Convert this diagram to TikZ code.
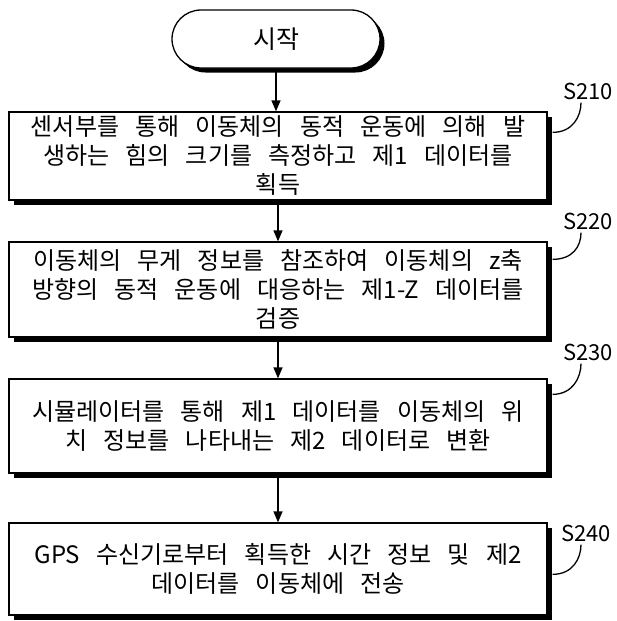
\documentclass[tikz,border=0pt]{standalone}
\usepackage{fontspec}
\setmainfont{Noto Sans CJK KR}[WordSpace=3]
\usetikzlibrary{arrows.meta,shadows}
\begin{document}
\begin{tikzpicture}[x=1pt,y=-1pt,
  shad/.style={drop shadow={shadow xshift=4.5pt,shadow yshift=-4.5pt,fill=black,opacity=1}},
  stepbox/.style={shad,draw,line width=1.3pt,fill=white,minimum width=538pt,inner sep=0pt,
    align=center,font=\fontsize{24}{29}\selectfont},
  term/.style={shad,draw,line width=1.3pt,fill=white,minimum width=208pt,minimum height=58pt,
    rounded corners=29pt,inner sep=0pt,font=\fontsize{25}{28}\selectfont},
  lbl/.style={font=\fontsize{22}{24}\selectfont,inner sep=0pt},
  flow/.style={line width=1.4pt,-{Triangle[length=11pt,width=9pt]}},
  leader/.style={line width=1.3pt}]
\useasboundingbox (0,0) rectangle (617,621);
\node[term] (st) at (276,39) {시작};
\node[stepbox,minimum height=88pt] (s1) at (278,156) {센서부를 통해 이동체의 동적 운동에 의해 발\\생하는 힘의 크기를 측정하고 제1 데이터를\\획득};
\node[stepbox,minimum height=95pt] (s2) at (278,289.5) {이동체의 무게 정보를 참조하여 이동체의 z축\\방향의 동적 운동에 대응하는 제1-Z 데이터를\\검증};
\node[stepbox,minimum height=94pt] (s3) at (278,426) {시뮬레이터를 통해 제1 데이터를 이동체의 위\\치 정보를 나타내는 제2 데이터로 변환};
\node[stepbox,minimum height=92pt] (s4) at (278,569) {GPS 수신기로부터 획득한 시간 정보 및 제2\\데이터를 이동체에 전송};
\node[lbl] (l1) at (588,91) {S210};
\node[lbl] (l2) at (588,221) {S220};
\node[lbl] (l3) at (588,352) {S230};
\node[lbl] (l4) at (586,533) {S240};
\draw[flow] (st.south) -- (st.south |- s1.north);
\draw[flow] (s1.south) -- (s2.north);
\draw[flow] (s2.south) -- (s3.north);
\draw[flow] (s3.south) -- (s4.north);
\draw[leader] ([xshift=5pt,yshift=-21pt]s1.north east) .. controls +(20,0) and +(0,14) .. ([xshift=-7pt,yshift=-3pt]l1.south);
\draw[leader] ([xshift=5pt,yshift=-18pt]s2.north east) .. controls +(20,0) and +(0,14) .. ([xshift=-7pt,yshift=-3pt]l2.south);
\draw[leader] ([xshift=5pt,yshift=-16pt]s3.north east) .. controls +(20,0) and +(0,14) .. ([xshift=-7pt,yshift=-3pt]l3.south);
\draw[leader] ([xshift=5pt,yshift=-52pt]s4.north east) .. controls +(20,0) and +(0,14) .. ([xshift=-5pt,yshift=-3pt]l4.south);
\end{tikzpicture}
\end{document}
